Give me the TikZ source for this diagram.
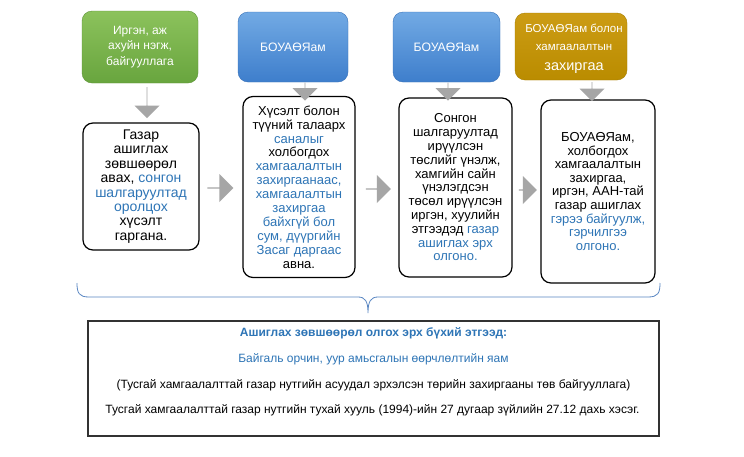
\documentclass[tikz,border=0pt]{standalone}
\usepackage{fontspec}
\setmainfont{Liberation Sans}
\usetikzlibrary{shapes.arrows}
\definecolor{txtblue}{RGB}{46,117,182}
\definecolor{arrowgray}{RGB}{166,166,166}
\definecolor{bracecol}{RGB}{90,135,195}
\definecolor{greentop}{RGB}{140,194,92}
\definecolor{greenbot}{RGB}{104,165,62}
\definecolor{bluetop}{RGB}{114,170,228}
\definecolor{bluebot}{RGB}{62,126,204}
\definecolor{goldtop}{RGB}{204,156,20}
\definecolor{goldbot}{RGB}{186,140,0}
\definecolor{framecol}{RGB}{50,50,50}
\newcommand{\bl}[1]{\textcolor{txtblue}{#1}}
\tikzset{
  topbox/.style={rounded corners=10pt, text=white, align=center, inner sep=2pt,
    font=\fontsize{12}{15.5}\selectfont},
  greenbox/.style={topbox, top color=greentop, bottom color=greenbot, draw=greenbot!90!black, line width=0.4pt},
  bluebox/.style={topbox, top color=bluetop, bottom color=bluebot, draw=bluebot!90!black, line width=0.4pt,
    font=\fontsize{12.2}{14}\selectfont},
  goldbox/.style={topbox, top color=goldtop, bottom color=goldbot, draw=goldbot!90!black, line width=0.4pt},
  goldtext/.style={text=white, align=center, inner sep=0pt, font=\fontsize{11.5}{18}\selectfont},
  stepbox/.style={draw=black, line width=1.2pt, rounded corners=10pt, fill=white, align=center,
    inner sep=2pt, font=\fontsize{13}{13.9}\selectfont},
  blockarrow/.style={single arrow, fill=arrowgray, draw=none, inner sep=0pt,
    single arrow head extend=6.5pt, single arrow head indent=0pt, minimum width=25pt},
  downarrow/.style={blockarrow, shape border rotate=270},
  rightarrow/.style={blockarrow, shape border rotate=0, minimum width=28pt, single arrow head extend=5pt},
  btext/.style={font=\fontsize{12}{14}\selectfont, inner sep=0pt}
}
\begin{document}
\begin{tikzpicture}[x=1pt,y=-1pt]
\useasboundingbox (0,0) rectangle (744,456);
\fill[white] (0,0) rectangle (744,456);

% top boxes
\node[greenbox, minimum width=116pt, minimum height=72pt] (t1) at (140,47) {Иргэн, аж\\ахуйн нэгж,\\байгууллага};
\node[bluebox, minimum width=110pt, minimum height=70pt] (t2) at (293,47) {БОУАӨЯам};
\node[bluebox, minimum width=107pt, minimum height=70pt] (t3) at (446.5,47) {БОУАӨЯам};
\node[goldbox, minimum width=112pt, minimum height=67pt] (t4) at (571,46.5) {};
\node[goldtext] (t4txt) at (574,48.5) {БОУАӨЯам болон\\хамгаалалтын\\[2pt]{\fontsize{14.5}{16}\selectfont захиргаа}};

% step boxes
\node[stepbox, minimum width=116pt, minimum height=127pt, font=\fontsize{14}{14.4}\selectfont] (b1) at (141,186.5)
  {Газар\\ашиглах\\зөвшөөрөл\\авах, \bl{сонгон}\\\bl{шалгаруултад}\\\bl{оролцох}\\хүсэлт\\гаргана.};
\node[stepbox, minimum width=112pt, minimum height=181pt] (b2) at (299,187)
  {Хүсэлт болон\\түүний талаарх\\\bl{саналыг}\\холбогдох\\\bl{хамгаалалтын}\\\bl{захиргаанаас,}\\\bl{хамгаалалтын}\\\bl{захиргаа}\\\bl{байхгүй бол}\\\bl{сум, дүүргийн}\\\bl{Засаг даргаас}\\авна.};
\node[stepbox, minimum width=113pt, minimum height=179pt, font=\fontsize{13}{13.8}\selectfont] (b3) at (455.5,187.5)
  {Сонгон\\шалгаруултад\\ирүүлсэн\\төслийг үнэлж,\\хамгийн сайн\\үнэлэгдсэн\\төсөл ирүүлсэн\\иргэн, хуулийн\\этгээдэд \bl{газар}\\\bl{ашиглах эрх}\\\bl{олгоно.}};
\node[stepbox, minimum width=114pt, minimum height=183pt, font=\fontsize{13}{13.6}\selectfont] (b4) at (598,191.5)
  {БОУАӨЯам,\\холбогдох\\хамгаалалтын\\захиргаа,\\иргэн, ААН-тай\\газар ашиглах\\\bl{гэрээ байгуулж,}\\\bl{гэрчилгээ}\\\bl{олгоно.}};

% down arrows
\node[downarrow, minimum height=31pt] (d1) at (147,102.5) {};
\node[downarrow, minimum height=18pt] (d2) at (305,91.5) {};
\node[downarrow, minimum height=18pt] (d3) at (448,91.5) {};
\node[downarrow, minimum height=19pt] (d4) at (592,91.5) {};

% right arrows
\node[rightarrow, minimum height=26pt] (r1) at (220,188) {};
\node[rightarrow, minimum height=25pt] (r2) at (378,189) {};
\node[rightarrow, minimum height=18pt] (r3) at (527.5,190) {};

% brace
\coordinate (brL) at (77,283);
\coordinate (brR) at (660,283);
\coordinate (brT) at (368,313);
\draw[bracecol, line width=0.8pt]
  (brL) .. controls (77,293) and (79,297) .. (89,297) -- (358,297)
  .. controls (365,297) and (368,301) .. (brT)
  .. controls (368,301) and (371,297) .. (378,297) -- (648,297)
  .. controls (658,297) and (660,293) .. (brR);

% bottom box
\node[draw=framecol, line width=1.4pt, minimum width=571pt, minimum height=115pt, inner sep=0pt] (bot) at (373.5,378.5) {};
\node[btext, text=txtblue, font=\fontsize{12}{14}\selectfont\bfseries] (l1) at (373.5,333) {Ашиглах зөвшөөрөл олгох эрх бүхий этгээд:};
\node[btext, text=txtblue] (l2) at (373.5,359) {Байгаль орчин, уур амьсгалын өөрчлөлтийн яам};
\node[btext] (l3) at (373.5,385.5) {(Тусгай хамгаалалттай газар нутгийн асуудал эрхэлсэн төрийн захиргааны төв байгууллага)};
\node[btext] (l4) at (372.5,410) {Тусгай хамгаалалттай газар нутгийн тухай хууль (1994)-ийн 27 дугаар зүйлийн 27.12 дахь хэсэг.};
\end{tikzpicture}
\end{document}
